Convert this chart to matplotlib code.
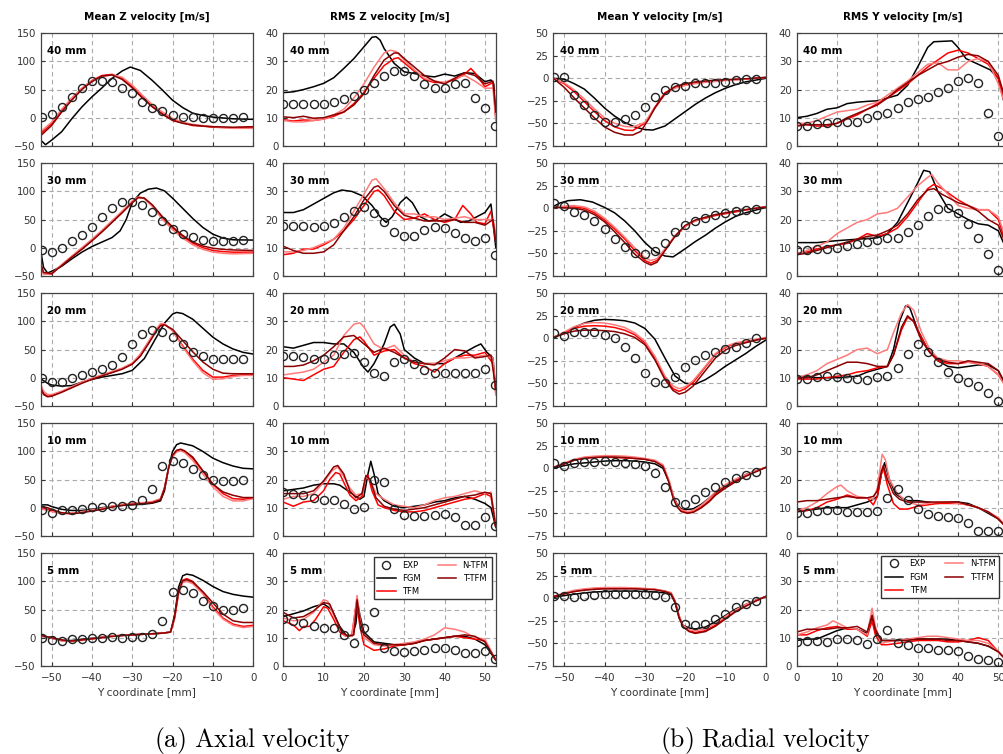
import matplotlib
matplotlib.use('agg')
import matplotlib.pyplot as plt

plt.rcParams['mathtext.fontset'] = 'cm'

# ---------------- data ----------------
heights = ['40 mm', '30 mm', '20 mm', '10 mm', '5 mm']
col_titles = ['Mean Z velocity [m/s]', 'RMS Z velocity [m/s]',
              'Mean Y velocity [m/s]', 'RMS Y velocity [m/s]']
model_names = ['FGM', 'TFM', 'N-TFM', 'T-TFM']

# experimental sample positions
exp_xneg = [-52.5, -50, -47.5, -45, -42.5, -40, -37.5, -35, -32.5, -30, -27.5,
            -25, -22.5, -20, -17.5, -15, -12.5, -10, -7.5, -5, -2.5]
exp_xpos = [0, 2.5, 5, 7.5, 10, 12.5, 15, 17.5, 20, 22.5, 25, 27.5, 30, 32.5,
            35, 37.5, 40, 42.5, 45, 47.5, 50, 52.5]
exp_xpos4 = exp_xpos[:-1]

# ---- Mean Z velocity ----
mz40_exp = [1, 6, 19, 37, 53, 65, 66, 63, 53, 43, 28, 18, 11, 5, 2, 1, 0, 0, 0, 0, 1]
mz40_fgm = [(-52.7, -40), (-51.5, -48), (-50, -40), (-47.5, -25), (-45, -2), (-42.5, 19), (-40, 37),
            (-37.5, 53), (-35, 70), (-32.5, 83), (-30.5, 90), (-28, 84), (-25, 66), (-22.5, 49),
            (-20, 31), (-17.5, 18), (-15, 8), (-12.5, 4), (-10, 1), (-5, -2), (0, -3)]
mz40_tfm = [(-52.7, -28), (-50, -11), (-47.5, 13), (-45, 34), (-42.5, 52), (-40, 66), (-37.5, 75),
            (-35, 77), (-32.5, 70), (-30, 55), (-27.5, 37), (-25, 20), (-22.5, 7), (-20, -4),
            (-17.5, -9), (-15, -14), (-12.5, -15), (-10, -17), (-5, -18), (0, -17)]
mz40_ntfm = [(-52.7, -25), (-50, -8), (-47.5, 15), (-45, 35), (-42.5, 52), (-40, 65), (-37.5, 73),
             (-35, 76), (-32.5, 72), (-30, 58), (-27.5, 40), (-25, 23), (-22.5, 10), (-20, -1),
             (-17.5, -8), (-15, -12), (-12.5, -14), (-10, -16), (-5, -19), (0, -19)]
mz40_ttfm = [(-52.7, -32), (-50, -14), (-47.5, 10), (-45, 31), (-42.5, 50), (-40, 64), (-37.5, 74),
             (-35, 76), (-32.5, 68), (-30, 53), (-27.5, 35), (-25, 19), (-22.5, 6), (-20, -5),
             (-17.5, -10), (-15, -13), (-12.5, -15), (-10, -16), (-5, -17), (0, -16)]

mz30_exp = [-4, -8, 0, 12, 22.5, 37, 54, 70, 80.6, 80.6, 76, 64, 48, 33, 24, 18.4, 13.6, 12.5, 12.5, 12.5, 13.6]
mz30_fgm = [(-52.7, -5), (-52, -35), (-51, -45), (-50, -42), (-47.5, -33), (-45, -20), (-42.5, -8),
            (-40, 2), (-37.5, 10), (-35, 18), (-33, 30), (-31.5, 50), (-30, 80), (-28, 97), (-26, 104),
            (-24, 106), (-22, 101), (-20, 88), (-17.5, 70), (-15, 52), (-12.5, 36), (-10, 24),
            (-7.5, 17), (-5, 14), (0, 13.5)]
mz30_tfm = [(-52.7, -30), (-52, -46), (-50, -47), (-47.5, -31), (-45, -16), (-42.5, -2), (-40, 13),
            (-37.5, 29), (-35, 46), (-32.5, 63), (-30, 82), (-28.5, 90), (-27, 88), (-25, 75),
            (-22.5, 53), (-20, 35), (-17.5, 20), (-15, 8), (-12.5, 0), (-10, -5), (-7.5, -7),
            (-5, -8), (0, -8)]
mz30_ntfm = [(-52.7, -32), (-52, -47), (-50, -46), (-47.5, -30), (-45, -15), (-42.5, 0), (-40, 15),
             (-37.5, 31), (-35, 48), (-32.5, 65), (-30, 83), (-28.5, 90), (-27, 87), (-25, 73),
             (-22.5, 50), (-20, 32), (-17.5, 17), (-15, 5), (-12.5, -3), (-10, -8), (-7.5, -10),
             (-5, -11), (0, -10)]
mz30_ttfm = [(-52.7, -28), (-52, -44), (-50, -46), (-47.5, -32), (-45, -17), (-42.5, -3), (-40, 12),
             (-37.5, 28), (-35, 45), (-32.5, 62), (-30, 80), (-28.5, 89), (-27, 88), (-25, 76),
             (-22.5, 55), (-20, 37), (-17.5, 22), (-15, 10), (-12.5, 3), (-10, -1), (-7.5, -3),
             (-5, -4), (0, -5)]

mz20_exp = [0, -7, -7, -1, 5, 10.7, 14.8, 22.5, 36, 59, 77, 85, 82, 72, 59, 46, 39, 34, 33, 33, 34]
mz20_fgm = [(-52.7, -2), (-51, -10), (-50, -13), (-47.5, -15), (-45, -14), (-42.5, -8), (-40, -3),
            (-37.5, 1), (-35, 4), (-32.5, 7), (-30, 13), (-27, 34), (-24, 72), (-22, 97), (-20, 113),
            (-19, 116), (-17.5, 114), (-15, 104), (-12.5, 88), (-10, 72), (-7.5, 60), (-5, 51),
            (-2.5, 45), (0, 42)]
mz20_tfm = [(-52.7, -15), (-52, -28), (-51, -33), (-50, -32), (-47.5, -25), (-45, -17), (-42.5, -9),
            (-40, -2), (-37.5, 4), (-35, 10), (-32.5, 16), (-30, 25), (-28, 40), (-26, 62), (-24, 85),
            (-23, 94), (-22, 95), (-20, 84), (-17.5, 57), (-15, 33), (-12.5, 13), (-10, 1),
            (-7.5, 1), (-5, 4), (-2.5, 5), (0, 5)]
mz20_ntfm = [(-52.7, -12), (-52, -24), (-51, -30), (-50, -30), (-47.5, -24), (-45, -16), (-42.5, -8),
             (-40, -1), (-37.5, 5), (-35, 11), (-32.5, 17), (-30, 26), (-28, 42), (-26, 64), (-24, 87),
             (-23, 96), (-22, 96), (-20, 83), (-17.5, 55), (-15, 30), (-12.5, 9), (-10, -3),
             (-7.5, -2), (-5, 2), (-2.5, 4), (0, 4)]
mz20_ttfm = [(-52.7, -17), (-52, -30), (-51, -34), (-50, -33), (-47.5, -26), (-45, -18), (-42.5, -10),
             (-40, -3), (-37.5, 3), (-35, 9), (-32.5, 15), (-30, 24), (-28, 38), (-26, 60), (-24, 83),
             (-23, 92), (-22, 94), (-20, 86), (-17.5, 66), (-15, 46), (-12.5, 28), (-10, 15),
             (-7.5, 8), (-5, 7), (-2.5, 7), (0, 7)]

mz10_exp = [-3.6, -9, -5, -3.6, -1.8, 1.2, 1.2, 2.4, 2.4, 4.2, 14, 34, 74, 83, 80, 69, 57.5, 50, 47, 47, 50]
mz10_fgm = [(-52.7, 5), (-51, 5), (-50, 2), (-47.5, -3), (-45, -5), (-42.5, -5), (-40, -3), (-37.5, 0),
            (-35, 2), (-32.5, 4), (-30, 5), (-27.5, 6), (-25, 8), (-23, 12), (-22, 30), (-21, 70),
            (-20, 100), (-19, 112), (-18, 115), (-15, 110), (-12.5, 100), (-10, 88), (-7.5, 80),
            (-5, 74), (-2.5, 70), (0, 69)]
mz10_tfm = [(-52.7, 0), (-51, -3), (-50, -5), (-47.5, -10), (-45, -10), (-42.5, -8), (-40, -5),
            (-37.5, -2), (-35, 2), (-32.5, 5), (-30, 7), (-27.5, 8), (-25, 10), (-23, 15), (-22, 35),
            (-21, 70), (-20, 92), (-19, 101), (-18, 103), (-17, 100), (-15, 88), (-12.5, 65),
            (-10, 42), (-7.5, 25), (-5, 16), (-2.5, 15), (0, 17)]
mz10_ntfm = [(-52.7, -2), (-51, -5), (-50, -7), (-47.5, -11), (-45, -10), (-42.5, -7), (-40, -4),
             (-37.5, -1), (-35, 3), (-32.5, 6), (-30, 8), (-27.5, 9), (-25, 11), (-23, 16), (-22, 36),
             (-21, 70), (-20, 90), (-19, 99), (-18, 101), (-17, 98), (-15, 84), (-12.5, 60),
             (-10, 37), (-7.5, 20), (-5, 12), (-2.5, 12), (0, 16)]
mz10_ttfm = [(-52.7, 2), (-51, 0), (-50, -3), (-47.5, -9), (-45, -11), (-42.5, -9), (-40, -6),
             (-37.5, -3), (-35, 1), (-32.5, 4), (-30, 6), (-27.5, 7), (-25, 9), (-23, 14), (-22, 34),
             (-21, 70), (-20, 93), (-19, 102), (-18, 104), (-17, 101), (-15, 90), (-12.5, 66),
             (-10, 42), (-7.5, 28), (-5, 22), (-2.5, 18), (0, 18)]

mz5_exp = [0, -4, -6, -3, -2, 0, 0, 0.6, 0, 0.6, 2, 6.5, 30, 80.6, 85, 80, 65, 56, 49, 49, 52]
mz5_fgm = [(-52.7, 3), (-50, -1), (-47.5, -5), (-45, -5), (-42.5, -3), (-40, -1), (-37.5, 1),
           (-35, 3), (-32.5, 4), (-30, 5), (-27.5, 6), (-25, 7), (-22.5, 8), (-20.5, 10), (-19.5, 40),
           (-18.5, 90), (-17.5, 110), (-16.5, 113), (-15, 111), (-12.5, 102), (-10, 91), (-7.5, 82),
           (-5, 77), (-2.5, 74), (0, 72)]
mz5_tfm = [(-52.7, 4), (-50, 0), (-47.5, -5), (-45, -6), (-42.5, -4), (-40, -2), (-37.5, 0),
           (-35, 3), (-32.5, 4), (-30, 5), (-27.5, 6), (-25, 7), (-22.5, 8), (-20.5, 10), (-19.5, 35),
           (-18.5, 80), (-17.5, 102), (-16.5, 105), (-15, 100), (-12.5, 80), (-10, 55), (-7.5, 35),
           (-5, 24), (-2.5, 20), (0, 22)]
mz5_ntfm = [(-52.7, 3), (-50, -1), (-47.5, -6), (-45, -7), (-42.5, -5), (-40, -2), (-37.5, 1),
            (-35, 3), (-32.5, 4), (-30, 5), (-27.5, 6), (-25, 7), (-22.5, 8), (-20.5, 10), (-19.5, 33),
            (-18.5, 78), (-17.5, 98), (-16.5, 100), (-15, 96), (-12.5, 78), (-10, 52), (-7.5, 33),
            (-5, 22), (-2.5, 18), (0, 20)]
mz5_ttfm = [(-52.7, 4), (-50, 0), (-47.5, -4), (-45, -6), (-42.5, -4), (-40, -2), (-37.5, 0),
            (-35, 2), (-32.5, 4), (-30, 5), (-27.5, 6), (-25, 7), (-22.5, 8), (-20.5, 10), (-19.5, 36),
            (-18.5, 82), (-17.5, 101), (-16.5, 103), (-15, 99), (-12.5, 82), (-10, 62), (-7.5, 42),
            (-5, 30), (-2.5, 27), (0, 27)]

# ---- RMS Z velocity ----
rz40_exp = [14.8, 14.7, 14.7, 14.8, 15, 15.7, 16.5, 17.7, 19.8, 22.4, 24.8, 26.5, 26.7, 24.8, 22,
            20.6, 20.6, 21.8, 22.5, 17, 13.3, 7.1]
rz40_fgm = [(0, 18.9), (2.5, 19.2), (5, 20), (7.5, 21), (10, 22.2), (12.5, 24.2), (15, 27.5), (17.5, 31),
            (20, 35.2), (22, 38.6), (23, 38.8), (24, 37.6), (25, 34.6), (27.5, 29.3), (30, 26.3),
            (32.5, 25.7), (35, 24.9), (37.5, 24.5), (40, 25.5), (42.5, 24.8), (45, 26), (47.5, 25.7),
            (50, 22.8), (51.5, 23.4), (52.2, 22), (52.7, 10)]
rz40_tfm = [(0, 9.3), (2.5, 8.8), (5, 9.2), (7.5, 9), (10, 9.5), (12.5, 10.5), (15, 12), (17.5, 15),
            (20, 19), (22.5, 24), (25, 28.5), (27.5, 31), (28.5, 31.3), (30, 29.5), (32.5, 26.5),
            (35, 23.5), (37.5, 22.5), (40, 22.5), (42.5, 23.5), (45, 25.5), (46.5, 27.5), (47.5, 26),
            (50, 21), (52, 22.5), (52.7, 10)]
rz40_ntfm = [(0, 9), (2.5, 8.5), (5, 8.5), (7.5, 9), (10, 9.5), (12.5, 11), (15, 13), (17.5, 17),
             (20, 22), (22.5, 28), (25, 33), (26.5, 34), (28, 33.5), (30, 30.5), (32.5, 27), (35, 24),
             (37.5, 23), (40, 22.5), (42.5, 24), (45, 25), (47.5, 23), (50, 20.5), (52, 20.5), (52.7, 9)]
rz40_ttfm = [(0, 10.3), (2.5, 10), (5, 10.5), (7.5, 9.8), (10, 10), (12.5, 11), (15, 12), (17.5, 14.5),
             (20, 18.5), (22.5, 25), (25, 30.5), (27.5, 33), (28.5, 33), (30, 31), (32.5, 28), (35, 25),
             (37.5, 23), (40, 22), (42.5, 24), (45, 26), (47.5, 25), (50, 22), (52, 23), (52.7, 12)]

rz30_exp = [17.7, 17.7, 17.7, 17.4, 17.7, 18.9, 21, 23, 24.6, 22.2, 19.2, 15.7, 14.2, 14.2, 16.3,
            17.2, 17, 15.3, 13.5, 12.5, 13.5, 7.4]
rz30_fgm = [(0, 22.5), (2.5, 22.5), (5, 23.5), (7.5, 25.5), (10, 27.5), (12.5, 29.5), (14.5, 30.5),
            (17, 30), (19.5, 28.5), (22, 25), (24, 21), (25.5, 19), (27, 21), (29, 26), (30.5, 28),
            (32, 26), (34, 21), (36, 19.5), (38, 20), (40, 22), (42, 20.5), (44, 19), (46, 19.5),
            (48, 21), (50, 22.5), (51.5, 25.5), (52.7, 10)]
rz30_tfm = [(0, 7.5), (2.5, 8), (5, 9.5), (7.5, 9.5), (10, 11), (12.5, 13), (15, 16), (17.5, 20),
            (20, 25), (22.5, 30), (23.5, 30.5), (25, 28.5), (27.5, 23), (30, 20), (32.5, 20.5),
            (35, 22), (37.5, 20), (40, 19), (42.5, 20), (44.5, 25), (46.5, 22), (48, 19), (50, 18.5),
            (51.5, 23), (52.7, 12)]
rz30_ntfm = [(0, 8.5), (2.5, 8.5), (5, 9), (7.5, 10), (10, 11.5), (12.5, 13), (15, 17), (17.5, 23),
             (20, 29), (22, 34), (23, 34.5), (25, 31), (27.5, 26), (30, 22), (32.5, 22), (35, 21),
             (37.5, 21), (40, 20), (42.5, 20.5), (45, 21), (47.5, 20), (50, 20), (52, 20), (52.7, 15)]
rz30_ttfm = [(0, 10.5), (2.5, 9), (5, 8), (7.5, 8), (10, 8.5), (12.5, 11), (15, 16), (17.5, 21),
             (20, 27), (22.5, 31.5), (23.5, 32), (25, 30), (27.5, 25), (30, 21.5), (32.5, 20.5),
             (35, 19.5), (37.5, 19.5), (40, 19.5), (42.5, 20), (45, 19), (47.5, 19), (50, 18),
             (52, 20), (52.7, 12)]

rz20_exp = [17.8, 17.7, 17.2, 16.6, 16.6, 18, 18.4, 18.9, 15.7, 11.7, 10.6, 15.4, 16.8, 14.8, 12.7,
            11.5, 11.5, 11.5, 11.7, 11.7, 13, 7.4]
rz20_fgm = [(0, 21), (2.5, 20.5), (5, 21.5), (7.5, 22.5), (10, 22.5), (12.5, 22), (15, 22), (17.5, 19),
            (20, 13.5), (21, 12), (22.5, 15), (25, 22), (26.5, 28), (27.5, 29), (29, 25.5), (30, 20),
            (32.5, 17), (35, 15), (37.5, 15), (40, 15), (42.5, 17), (45, 19), (47.5, 21), (49, 22),
            (50.5, 19), (52, 17), (52.7, 5)]
rz20_tfm = [(0, 10), (2.5, 9.5), (5, 9), (7.5, 11), (10, 13), (12.5, 14), (15, 19), (17.5, 23.5),
            (19, 24.5), (20, 23), (22.5, 18), (25, 19.5), (27.5, 20), (30, 17), (32.5, 15), (35, 14),
            (37.5, 12), (40, 15), (42.5, 17), (45, 18), (47.5, 18), (50, 19), (52, 15), (52.7, 4)]
rz20_ntfm = [(0, 11), (2.5, 11.5), (5, 12), (7.5, 13), (10, 15.5), (12.5, 18), (15, 25), (17.5, 29),
             (19, 29.5), (20, 28), (22.5, 22), (25, 20), (27.5, 21.5), (30, 18), (32.5, 15.5), (35, 15),
             (37.5, 15), (40, 16), (42.5, 17), (45, 17), (47.5, 17.5), (50, 18), (52, 17), (52.7, 4)]
rz20_ttfm = [(0, 14), (2.5, 14), (5, 14.5), (7.5, 16), (10, 18), (12.5, 21), (15, 24.5), (17.5, 25),
             (20, 22), (22.5, 19), (25, 20.5), (27.5, 19), (30, 17), (32.5, 15.5), (35, 15),
             (37.5, 14.5), (40, 17), (42.5, 20), (45, 19.5), (47.5, 17), (50, 17.5), (51.5, 18), (52.7, 6)]

rz10_exp = [15.7, 15, 14.5, 13.3, 12.9, 12.7, 11.3, 9.4, 10.3, 19.8, 19.2, 9.4, 7.4, 7.1, 7.1, 7.4,
            7.7, 6.8, 3.8, 3.8, 6.8, 3.4]
rz10_fgm = [(0, 16), (2.5, 16.5), (5, 17), (7.5, 18), (10, 18.5), (12.5, 18.5), (14, 18), (15, 17),
            (17.5, 14.5), (19, 13), (20, 14), (21, 22), (21.7, 26.5), (22.5, 22), (23.5, 15), (25, 12.5),
            (27.5, 10.5), (30, 10), (32.5, 10.5), (35, 11), (37.5, 12), (40, 12.5), (42.5, 13.5),
            (45, 14), (47.5, 13), (50, 11.5), (51.5, 10), (52.7, 3)]
rz10_tfm = [(0, 12), (2.5, 10.5), (5, 12), (7.5, 12.5), (10, 16), (11.5, 20), (13, 22.5), (14, 22),
            (15, 19), (16.5, 14.5), (18, 12.5), (19.5, 14), (20.5, 21), (21, 21.5), (22, 16), (23.5, 11),
            (25, 10), (27.5, 9), (30, 8.5), (32.5, 8.5), (35, 9), (37.5, 10), (40, 11), (42.5, 12),
            (45, 13), (47.5, 13.5), (50, 15), (51.5, 14), (52.7, 3)]
rz10_ntfm = [(0, 13), (2.5, 14), (5, 14), (7.5, 15), (10, 19), (12, 23), (13.5, 24.5), (15, 21),
             (16.5, 17), (18, 14.5), (19.5, 15), (20.5, 21), (21.5, 20), (23, 15), (25, 13), (27.5, 11),
             (30, 10.5), (32.5, 10), (35, 11), (37.5, 12.5), (40, 13.5), (42.5, 14), (45, 15),
             (47.5, 16), (50, 15), (51.5, 15.5), (52.7, 4)]
rz10_ttfm = [(0, 15), (2.5, 15), (5, 15), (7.5, 16), (10, 19.5), (12.5, 24.5), (13.5, 25), (15, 22),
             (16.5, 16), (18, 13.5), (19.5, 15), (20.5, 21.5), (21.5, 20), (23, 13.5), (25, 10.5),
             (27.5, 9.5), (30, 9), (32.5, 9.5), (35, 10), (37.5, 11), (40, 12), (42.5, 13), (45, 14),
             (47.5, 14.5), (50, 15.5), (51.5, 15), (52.7, 3)]

rz5_exp = [16.8, 15.9, 15.3, 14.1, 13.3, 13.3, 11, 8, 13.3, 19, 6.5, 5.2, 5, 5.2, 5.6, 6.2, 6.2, 5.6,
           4.6, 4.4, 5.3, 2.3]
rz5_fgm = [(0, 17.5), (2.5, 18.5), (5, 19.5), (7.5, 21), (10, 22), (12, 20), (14, 14), (15.5, 11),
           (17, 10.5), (18, 15), (18.5, 22), (19, 18), (20, 12), (22.5, 8.5), (25, 8), (27.5, 7.5),
           (30, 7.5), (32.5, 8), (35, 9), (37.5, 9.5), (40, 10), (42.5, 10.5), (45, 10.5), (47.5, 9.5),
           (50, 7.5), (52.7, 2)]
rz5_tfm = [(0, 16), (2.5, 14.5), (4, 12.5), (5, 14), (6.5, 14), (8, 16.5), (10, 21), (11, 20.5),
           (12.5, 16.5), (14, 12), (15.5, 10.5), (17, 11), (18.2, 23), (19, 14), (20, 7.5), (22.5, 5.5),
           (25, 6), (27.5, 7), (30, 7.5), (32.5, 8), (35, 9), (37.5, 9.5), (40, 10), (42.5, 10.5),
           (45, 10), (47.5, 9.5), (50, 9), (52.7, 2)]
rz5_ntfm = [(0, 17), (2.5, 16), (5, 16.5), (7.5, 19), (10, 23.5), (11, 23), (12.5, 18), (14, 13),
            (15.5, 10.5), (17, 10.5), (18.3, 25), (19, 17), (20, 10), (22.5, 7.5), (25, 7), (27.5, 7.5),
            (30, 8), (32.5, 8.5), (35, 9.5), (37.5, 11), (40, 13.5), (42.5, 13), (45, 12), (47.5, 10),
            (50, 9.5), (52.7, 2)]
rz5_ttfm = [(0, 19), (2.5, 17), (5, 17.5), (7.5, 19.5), (10, 22.5), (11.5, 22), (13, 17), (14.5, 12),
            (16, 10.5), (17.5, 11), (18.3, 23.5), (19, 16), (20, 11), (22.5, 8), (25, 7.5), (27.5, 7.5),
            (30, 7.5), (32.5, 8), (35, 9), (37.5, 9.5), (40, 10), (42.5, 10.5), (45, 11), (47.5, 10.5),
            (50, 8.5), (52.7, 2)]

# ---- Mean Y velocity ----
my40_exp = [1, 2, -18.5, -30, -41, -48, -48, -45, -41, -31.5, -21, -13, -10, -8, -5.5, -5.5, -5, -4, -2, -1, -1]
my40_fgm = [(-52.7, 0), (-50, -1), (-47.5, -6), (-45, -12), (-42.5, -22), (-40, -33), (-37.5, -42),
            (-35, -49), (-32.5, -54), (-30, -57), (-28, -57.5), (-25, -53), (-22.5, -45), (-20, -37),
            (-17.5, -29), (-15, -22), (-12.5, -16), (-10, -11), (-7.5, -7), (-5, -4), (-2.5, -2), (0, 0)]
my40_tfm = [(-52.7, 0), (-50, -6), (-47.5, -15), (-45, -26), (-42.5, -37), (-40, -47), (-37.5, -54),
            (-35, -57.5), (-33, -58), (-30, -50), (-27.5, -32), (-25, -16), (-22.5, -10), (-20, -7),
            (-17.5, -5), (-15, -4), (-12.5, -3), (-10, -2), (-5, -1), (0, 1)]
my40_ntfm = [(-52.7, 0), (-50, -5), (-47.5, -13), (-45, -23), (-42.5, -34), (-40, -44), (-37.5, -50),
             (-35, -53.5), (-33, -54), (-30, -49), (-27.5, -33), (-25, -18), (-22.5, -11), (-20, -8),
             (-17.5, -6), (-15, -4.5), (-12.5, -3.5), (-10, -2.5), (-5, -1), (0, 1)]
my40_ttfm = [(-52.7, 0), (-50, -10), (-47.5, -22), (-45, -33), (-42.5, -44), (-40, -54), (-37.5, -60),
             (-35, -63), (-33, -63), (-31, -59), (-29, -45), (-27.5, -33), (-25, -17), (-22.5, -9),
             (-20, -6), (-17.5, -4), (-15, -3), (-12.5, -2), (-10, -1.5), (-5, -0.5), (0, 1)]

my30_exp = [6, 2.6, -3.7, -7.4, -13.7, -23.4, -34.5, -43.4, -50, -50.8, -48, -39, -26, -18.5, -13.7,
            -11, -7.4, -4.8, -2.6, -1.9, -0.7]
my30_fgm = [(-52.7, 2), (-51, 6), (-49, 8.5), (-46, 9.5), (-43, 7), (-40, 1), (-37.5, -5), (-35, -14),
            (-32.5, -25), (-30, -38), (-27.5, -48), (-25, -53), (-23, -54), (-20, -45), (-17.5, -37),
            (-15, -30), (-12.5, -22), (-10, -15), (-7.5, -9), (-5, -5), (-2.5, -2), (0, 1)]
my30_tfm = [(-52.7, 1), (-50, 1.5), (-47.5, 1.5), (-45, 0), (-42.5, -5), (-40, -13), (-37.5, -23),
            (-35, -34), (-32.5, -47), (-30, -58), (-28.5, -61), (-27, -58), (-25, -46), (-22.5, -31),
            (-20, -20), (-17.5, -14), (-15, -11), (-12.5, -8), (-10, -6), (-7.5, -4), (-5, -2),
            (-2.5, 0), (0, 1.5)]
my30_ntfm = [(-52.7, 1), (-50, 2.5), (-47.5, 3), (-45, 1.5), (-42.5, -3), (-40, -11), (-37.5, -21),
             (-35, -32), (-32.5, -44), (-30, -55), (-28.5, -58), (-27, -56), (-25, -45), (-22.5, -30),
             (-20, -20), (-17.5, -14), (-15, -10), (-12.5, -7), (-10, -5), (-7.5, -3), (-5, -1.5),
             (-2.5, 0), (0, 2)]
my30_ttfm = [(-52.7, 1), (-50, 0.5), (-47.5, 0), (-45, -2), (-42.5, -7), (-40, -15), (-37.5, -26),
             (-35, -38), (-32.5, -51), (-30, -60), (-28.5, -63), (-27, -60), (-25, -47), (-22.5, -31),
             (-20, -19), (-17.5, -13), (-15, -10), (-12.5, -7), (-10, -5), (-7.5, -3), (-5, -1.5),
             (-2.5, 0), (0, 1.5)]

my20_exp = [5.6, 2.6, 6.7, 6.7, 6.7, 3.7, 0.7, -9.3, -22.3, -38, -49, -50, -42.7, -31.5, -24, -18.5,
            -14.8, -11.9, -10, -5.6, 0]
my20_fgm = [(-52.7, 1), (-50, 6), (-47.5, 12), (-45, 17), (-42.5, 20), (-40, 21), (-37.5, 20.5),
            (-35, 19.5), (-32.5, 17), (-30, 11), (-27.5, -1), (-25, -22), (-22.5, -42), (-20, -50),
            (-17.5, -51), (-15, -46), (-12.5, -39), (-10, -31), (-7.5, -24), (-5, -17), (-2.5, -9), (0, -2)]
my20_tfm = [(-52.7, 1), (-50, 6), (-47.5, 11), (-45, 13.5), (-42.5, 14), (-40, 13.5), (-37.5, 12),
            (-35, 9), (-32.5, 4), (-30, -5), (-27.5, -22), (-25, -44), (-23, -56), (-21.5, -59),
            (-20, -56), (-18, -49), (-15, -32), (-12.5, -18), (-10, -10), (-7.5, -6), (-5, -4),
            (-2.5, -2), (0, 0)]
my20_ntfm = [(-52.7, 1), (-50, 7), (-47.5, 13), (-45, 16.5), (-42.5, 17.5), (-40, 17), (-37.5, 15),
             (-35, 12), (-32.5, 6), (-30, -3), (-27.5, -20), (-25, -42), (-23, -53), (-21.5, -56),
             (-20, -54), (-18, -47), (-15, -31), (-12.5, -17), (-10, -9), (-7.5, -5), (-5, -3),
             (-2.5, -1), (0, 1)]
my20_ttfm = [(-52.7, 1), (-50, 5), (-47.5, 8), (-45, 9), (-42.5, 9), (-40, 8.5), (-37.5, 7.5),
             (-35, 5), (-32.5, 1), (-30, -7), (-27.5, -24), (-25, -46), (-23, -58), (-21.5, -62),
             (-20, -60), (-18, -53), (-15, -36), (-12.5, -22), (-10, -13), (-7.5, -8), (-5, -5),
             (-2.5, -2), (0, 0)]

my10_exp = [6.3, 3, 5.6, 6.7, 7.4, 8.2, 7.4, 6.3, 4.8, 2.6, -5.6, -21, -38, -39.7, -34.5, -26.7,
            -20.4, -14.8, -11, -7.4, -3.7]
my10_fgm = [(-52.7, 0), (-50, 3), (-47.5, 5), (-45, 6), (-42.5, 7), (-40, 8), (-37.5, 8.5), (-35, 8.5),
            (-32.5, 8), (-30, 7), (-27.5, 5), (-25.5, 0), (-24, -15), (-23, -30), (-22, -40), (-21, -45),
            (-20, -46), (-18, -45), (-16, -40), (-14, -33), (-12.5, -27), (-10, -20), (-7.5, -13),
            (-5, -7), (-2.5, -3), (0, 1)]
my10_tfm = [(-52.7, 1), (-50, 5), (-47.5, 9), (-45, 11.5), (-42.5, 12.5), (-40, 12.5), (-37.5, 12),
            (-35, 11.5), (-32.5, 11), (-30, 10), (-27.5, 8), (-25.5, 3), (-24, -15), (-23, -32),
            (-22, -42), (-21, -47), (-19.5, -49), (-18, -48), (-16, -43), (-14, -36), (-12.5, -29),
            (-10, -21), (-7.5, -14), (-5, -8), (-2.5, -3), (0, 1)]
my10_ntfm = [(-52.7, 1), (-50, 6), (-47.5, 10), (-45, 12.5), (-42.5, 13.5), (-40, 14), (-37.5, 14),
             (-35, 13.5), (-32.5, 12.5), (-30, 11), (-27.5, 9), (-25.5, 4), (-24, -13), (-23, -30),
             (-22, -41), (-21, -46), (-19.5, -48), (-18, -47), (-16, -41), (-14, -33), (-12.5, -26),
             (-10, -18), (-7.5, -12), (-5, -7), (-2.5, -3), (0, 1)]
my10_ttfm = [(-52.7, 1), (-50, 5), (-47.5, 9), (-45, 11), (-42.5, 12), (-40, 12.5), (-37.5, 12.5),
             (-35, 12), (-32.5, 11), (-30, 10), (-27.5, 7.5), (-25.5, 2), (-24, -16), (-23, -33),
             (-22, -43), (-21, -48), (-19.5, -50), (-18, -49), (-16, -44), (-14, -37), (-12.5, -30),
             (-10, -22), (-7.5, -15), (-5, -9), (-2.5, -4), (0, 1)]

my5_exp = [3, 3, 2, 3, 4, 5, 5, 5, 5, 5, 4, 2, -10, -28, -30, -28, -23, -17, -10, -6, -3]
my5_fgm = [(-52.7, 1), (-50, 3), (-47.5, 4.5), (-45, 6), (-42.5, 7), (-40, 7.5), (-37.5, 8), (-35, 8),
           (-32.5, 8), (-30, 7.5), (-27.5, 7), (-25, 6), (-23.5, 4), (-22.5, -5), (-21.5, -22),
           (-20.5, -30), (-19, -33), (-17.5, -34), (-15, -32), (-12.5, -26), (-10, -19), (-7.5, -12),
           (-5, -7), (-2.5, -2), (0, 2)]
my5_tfm = [(-52.7, 2), (-50, 5), (-47.5, 8), (-45, 9.5), (-42.5, 10.5), (-40, 11), (-37.5, 11),
           (-35, 11), (-32.5, 11), (-30, 10.5), (-27.5, 10), (-25, 8), (-23.5, 6), (-22.5, -3),
           (-21.5, -20), (-20.5, -31), (-19, -36), (-17.5, -38), (-15, -36), (-12.5, -30), (-10, -22),
           (-7.5, -14), (-5, -8), (-2.5, -3), (0, 2)]
my5_ntfm = [(-52.7, 2), (-50, 6), (-47.5, 9), (-45, 10.5), (-42.5, 11.5), (-40, 12), (-37.5, 12),
            (-35, 12), (-32.5, 11.5), (-30, 11), (-27.5, 10), (-25, 8), (-23.5, 6), (-22.5, -3),
            (-21.5, -19), (-20.5, -30), (-19, -35), (-17.5, -36), (-15, -34), (-12.5, -28), (-10, -20),
            (-7.5, -13), (-5, -7), (-2.5, -2), (0, 2)]
my5_ttfm = [(-52.7, 2), (-50, 5), (-47.5, 7.5), (-45, 9), (-42.5, 10), (-40, 10.5), (-37.5, 10.5),
            (-35, 10.5), (-32.5, 10.5), (-30, 10), (-27.5, 9.5), (-25, 7.5), (-23.5, 5), (-22.5, -4),
            (-21.5, -21), (-20.5, -32), (-19, -37), (-17.5, -39), (-15, -37), (-12.5, -31), (-10, -23),
            (-7.5, -15), (-5, -9), (-2.5, -3), (0, 2)]

# ---- RMS Y velocity ----
ry40_exp = [7, 7, 7.7, 8, 8.5, 8.5, 8.5, 10, 11, 11.7, 13.3, 15.4, 16.6, 17.4, 19, 20.6, 23, 24,
            22.2, 11.5, 3.4]
ry40_fgm = [(0, 10), (2.5, 10.5), (5, 11.5), (7.5, 13), (10, 13.5), (12.5, 15), (15, 15.5),
            (17.5, 15.8), (20, 16), (22.5, 17), (25, 18), (27.5, 21.5), (30, 28), (32.5, 35), (34, 37),
            (38.5, 37.3), (40, 35), (42, 31), (45, 29), (48, 27), (50, 24), (51.5, 15), (52.7, 5)]
ry40_tfm = [(0, 8), (2.5, 7.5), (5, 7), (7.5, 7), (10, 8), (12.5, 9.5), (15, 11), (17.5, 13), (20, 15),
            (22.5, 17), (25, 19.5), (27.5, 22), (30, 25), (32.5, 28), (35, 30.5), (37.5, 33), (40, 34),
            (42.5, 33), (45, 31), (47.5, 29), (50, 24), (52.7, 10)]
ry40_ntfm = [(0, 8), (2.5, 8), (5, 9), (7.5, 10.5), (10, 12), (12.5, 12.5), (15, 13), (17.5, 14.5),
             (20, 15.5), (22.5, 18), (25, 20.5), (27.5, 23), (30, 26), (32.5, 29), (35, 29.5),
             (37.5, 27), (40, 27), (42.5, 30), (45, 31), (47.5, 30), (50, 22), (52.7, 10)]
ry40_ttfm = [(0, 7), (2.5, 7.5), (5, 7.5), (7.5, 7.5), (10, 8), (12.5, 10), (15, 11.5), (17.5, 13),
             (20, 14.5), (22.5, 17), (25, 20), (27.5, 22.5), (30, 25), (32.5, 27), (35, 29), (37.5, 30),
             (40, 31.5), (42.5, 32.5), (45, 32), (47.5, 30), (50, 25), (52.7, 12)]

ry30_exp = [9.1, 9.1, 9.4, 9.4, 10, 10.7, 11.2, 12.1, 12.7, 13.3, 13.5, 15.4, 18, 21.4, 23.7, 24,
            22.4, 18.4, 13.3, 7.6, 2]
ry30_fgm = [(0, 11.8), (5, 11.8), (10, 12.5), (15, 13), (20, 13.5), (22.5, 15), (25, 19), (27.5, 26),
            (30, 33), (31.5, 37.5), (33, 37), (35, 30), (37.5, 24), (40, 22), (42.5, 20), (45, 18.5),
            (47.5, 18), (50, 16), (52.7, 7)]
ry30_tfm = [(0, 8), (2.5, 8.5), (5, 9.5), (7.5, 10.5), (10, 11), (12.5, 11.5), (15, 13), (17.5, 15),
            (20, 14), (22.5, 15), (25, 17), (27.5, 21), (30, 26), (32.5, 31), (34, 32.5), (36, 31),
            (38, 29), (40, 27), (42.5, 25), (45, 23.5), (47.5, 23.5), (50, 20), (52.7, 8)]
ry30_ntfm = [(0, 7.5), (2.5, 9), (5, 10.5), (7.5, 12), (10, 15), (12.5, 17), (15, 19), (17.5, 20),
             (20, 22), (22.5, 22.5), (25, 24), (27.5, 28), (30, 32), (32.5, 35), (33.5, 36), (35, 33),
             (37.5, 29), (40, 25), (42.5, 24), (45, 23.5), (47.5, 23.5), (50, 21), (52.7, 10)]
ry30_ttfm = [(0, 7.5), (2.5, 8), (5, 9), (7.5, 10), (10, 11), (12.5, 12), (15, 13), (17.5, 14),
             (20, 14.5), (22.5, 16), (25, 18), (27.5, 22), (30, 27), (32.5, 30.5), (34, 31), (36, 29),
             (38, 27.5), (40, 26), (42.5, 25), (45, 23), (47.5, 20), (50, 18), (52.7, 8)]

ry20_exp = [9.4, 9.4, 10.3, 10.7, 10.3, 10, 9.4, 9.1, 10.3, 10.7, 13.3, 18.4, 21.8, 19.2, 15.4,
            11.9, 10, 8.5, 7.1, 4.4, 1.8]
ry20_fgm = [(0, 10.5), (5, 10), (10, 10), (15, 10.5), (17.5, 12), (20, 13), (22.5, 14), (24, 20),
            (25.5, 30), (27, 35.5), (28, 35), (30, 27), (32.5, 20), (35, 16), (37.5, 14), (40, 13.5),
            (42.5, 14), (45, 14.5), (47.5, 14.5), (50, 12.5), (52.7, 5)]
ry20_tfm = [(0, 9.5), (2.5, 9.5), (5, 9.5), (7.5, 10), (10, 10.5), (12.5, 11), (15, 12), (17.5, 12.5),
            (20, 13.5), (22.5, 14), (24, 18), (26, 27), (27.5, 31.5), (29, 30), (31, 24), (33, 19),
            (35, 16), (37.5, 15), (40, 15), (42.5, 15.5), (45, 15), (47.5, 14), (50, 11), (52.7, 5)]
ry20_ntfm = [(0, 10), (2.5, 11), (5, 12.5), (7.5, 15), (10, 16.5), (12.5, 18), (15, 20), (17.5, 20.5),
             (20, 18.5), (22.5, 20), (24, 26), (26, 33), (27.5, 36), (29, 34), (31, 26), (33, 20),
             (35, 17), (37.5, 16), (40, 16), (42.5, 15.5), (45, 15), (47.5, 14), (50, 11), (52.7, 5)]
ry20_ttfm = [(0, 10), (2.5, 10), (5, 11), (7.5, 12.5), (10, 14), (12.5, 15.5), (15, 15.5), (17.5, 15),
             (20, 14), (22.5, 14), (24, 18), (26, 28), (27.5, 32), (29, 30), (31, 23), (33, 19),
             (35, 16.5), (37.5, 15.5), (40, 15), (42.5, 16), (45, 15.5), (47.5, 15), (50, 12.5), (52.7, 5)]

ry10_exp = [8.2, 8.2, 8.8, 9.1, 9.1, 8.5, 8.5, 8.5, 8.8, 13.3, 16.8, 12.7, 9.4, 7.7, 7.1, 6.8, 6.4,
            4.4, 1.8, 1.7, 1.8]
ry10_fgm = [(0, 8.5), (2.5, 9), (5, 9.5), (7.5, 10), (10, 10), (12.5, 10), (15, 11), (17.5, 12), (19, 13),
            (20, 14), (21, 22), (21.8, 26), (23, 20), (24.5, 15), (26, 13.5), (27.5, 12.5), (30, 12.5),
            (32.5, 12), (35, 11.5), (37.5, 12), (40, 12), (42.5, 11.5), (45, 10), (47.5, 8), (50, 6),
            (52.7, 2)]
ry10_tfm = [(0, 9), (2.5, 9), (5, 10), (7.5, 12), (10, 13), (12.5, 14.5), (15, 13.5), (17.5, 13.5),
            (19, 11), (20, 14), (21, 22), (21.5, 24), (22.5, 18), (24, 11.5), (25.5, 9.5), (27.5, 9.5),
            (30, 10.5), (32.5, 11), (35, 11.5), (37.5, 11.5), (40, 11.5), (42.5, 11), (45, 10),
            (47.5, 8.5), (50, 6), (52.7, 2)]
ry10_ntfm = [(0, 9), (2.5, 10), (5, 12), (7.5, 15), (10, 17.5), (11, 18), (12.5, 16), (15, 14),
             (17.5, 13.5), (19, 13), (20, 17), (21.2, 29), (22, 27), (23, 20), (25, 15), (27.5, 12),
             (30, 11), (32.5, 11.5), (35, 12), (37.5, 12), (40, 11.5), (42.5, 11), (45, 10), (47.5, 8.5),
             (50, 6.5), (52.7, 2)]
ry10_ttfm = [(0, 12), (2.5, 12.5), (5, 12.5), (7.5, 13), (10, 13.5), (12.5, 14), (15, 13.5),
             (17.5, 13.5), (19, 14), (20, 16), (21, 23), (21.5, 25), (22.5, 20), (24, 15), (25.5, 13),
             (27.5, 12), (30, 12), (32.5, 12), (35, 12), (37.5, 12), (40, 12), (42.5, 11), (45, 10),
             (47.5, 8.5), (50, 6), (52.7, 2)]

ry5_exp = [8.3, 8.8, 8.9, 8.5, 9.4, 9.5, 9.1, 7.9, 9.7, 12.9, 8.2, 7.4, 6.5, 6.2, 5.6, 5.6, 5.3, 3.4,
           2.4, 2, 1.4]
ry5_fgm = [(0, 9), (2.5, 9.5), (5, 9.5), (7.5, 11), (10, 12.5), (12.5, 13.5), (15, 13), (17.5, 11.5),
           (18.5, 17.5), (19.5, 12), (21, 9), (22.5, 9), (25, 9), (27.5, 9.5), (30, 9.5), (32.5, 9.5),
           (35, 9.5), (37.5, 9.5), (40, 9), (42.5, 8.5), (45, 8), (47.5, 7), (50, 5), (52.7, 1)]
ry5_tfm = [(0, 11), (2.5, 11), (5, 12.5), (7.5, 13.5), (10, 14), (12.5, 13), (15, 13), (17.5, 10.5),
           (18.7, 16), (19.5, 11), (21, 7.5), (22.5, 7.5), (25, 8), (27.5, 8.5), (30, 9), (32.5, 9),
           (35, 9), (37.5, 8.5), (40, 8.5), (42.5, 9), (45, 10), (47.5, 9), (50, 5), (52.7, 1)]
ry5_ntfm = [(0, 11), (2.5, 12), (5, 13.5), (7.5, 14.5), (9, 16), (10.5, 15), (12.5, 13.5), (15, 13),
            (17.5, 11), (18.7, 20.5), (19.5, 14), (21, 8), (22.5, 8.5), (25, 9), (27.5, 9.5), (30, 10),
            (32.5, 10.5), (35, 10.5), (37.5, 10), (40, 9.5), (42.5, 9), (45, 9), (47.5, 8), (50, 5),
            (52.7, 1)]
ry5_ttfm = [(0, 12), (2.5, 13), (5, 13), (7.5, 13), (10, 13.5), (12.5, 13.5), (15, 14), (17.5, 12),
            (18.7, 18), (19.5, 13), (21, 9), (22.5, 9), (25, 9), (27.5, 9), (30, 9.5), (32.5, 9.5),
            (35, 9.5), (37.5, 9), (40, 9), (42.5, 8.5), (45, 8), (47.5, 7), (50, 5), (52.7, 1)]

# ---------------- assemble ----------------
columns = [
    (exp_xneg, (-52.7, 0), (-50, 150), [-50, 0, 50, 100, 150], [-50, -40, -30, -20, -10, 0],
     [(mz40_exp, mz40_fgm, mz40_tfm, mz40_ntfm, mz40_ttfm),
      (mz30_exp, mz30_fgm, mz30_tfm, mz30_ntfm, mz30_ttfm),
      (mz20_exp, mz20_fgm, mz20_tfm, mz20_ntfm, mz20_ttfm),
      (mz10_exp, mz10_fgm, mz10_tfm, mz10_ntfm, mz10_ttfm),
      (mz5_exp, mz5_fgm, mz5_tfm, mz5_ntfm, mz5_ttfm)]),
    (exp_xpos, (0, 52.7), (0, 40), [0, 10, 20, 30, 40], [0, 10, 20, 30, 40, 50],
     [(rz40_exp, rz40_fgm, rz40_tfm, rz40_ntfm, rz40_ttfm),
      (rz30_exp, rz30_fgm, rz30_tfm, rz30_ntfm, rz30_ttfm),
      (rz20_exp, rz20_fgm, rz20_tfm, rz20_ntfm, rz20_ttfm),
      (rz10_exp, rz10_fgm, rz10_tfm, rz10_ntfm, rz10_ttfm),
      (rz5_exp, rz5_fgm, rz5_tfm, rz5_ntfm, rz5_ttfm)]),
    (exp_xneg, (-52.7, 0), (-75, 50), [-75, -50, -25, 0, 25, 50], [-50, -40, -30, -20, -10, 0],
     [(my40_exp, my40_fgm, my40_tfm, my40_ntfm, my40_ttfm),
      (my30_exp, my30_fgm, my30_tfm, my30_ntfm, my30_ttfm),
      (my20_exp, my20_fgm, my20_tfm, my20_ntfm, my20_ttfm),
      (my10_exp, my10_fgm, my10_tfm, my10_ntfm, my10_ttfm),
      (my5_exp, my5_fgm, my5_tfm, my5_ntfm, my5_ttfm)]),
    (exp_xpos4, (0, 52.7), (0, 40), [0, 10, 20, 30, 40], [0, 10, 20, 30, 40, 50],
     [(ry40_exp, ry40_fgm, ry40_tfm, ry40_ntfm, ry40_ttfm),
      (ry30_exp, ry30_fgm, ry30_tfm, ry30_ntfm, ry30_ttfm),
      (ry20_exp, ry20_fgm, ry20_tfm, ry20_ntfm, ry20_ttfm),
      (ry10_exp, ry10_fgm, ry10_tfm, ry10_ntfm, ry10_ttfm),
      (ry5_exp, ry5_fgm, ry5_tfm, ry5_ntfm, ry5_ttfm)]),
]

model_colors = ['black', '#ff0000', '#ff7b7b', '#8b0000']

W, H = 1004, 754
col_left = [40.7, 283.3, 553.3, 796.7]
row_top = [33.3, 163.3, 293.3, 423.3, 553.3]
ax_w, ax_h = 212.5, 112.5

fig = plt.figure(figsize=(W / 100, H / 100), dpi=100)

for c, (ex, xlim, ylim, yticks, xticks, rows) in enumerate(columns):
    for r, (ey, *models) in enumerate(rows):
        ax = fig.add_axes([col_left[c] / W, 1 - (row_top[r] + ax_h) / H, ax_w / W, ax_h / H])
        ax.plot(ex, ey, 'o', mfc='none', mec='#222222', ms=5.8, mew=1.0, label='EXP', zorder=3)
        for pts, col, name in zip(models, model_colors, model_names):
            xs = [p[0] for p in pts]
            ys = [p[1] for p in pts]
            ax.plot(xs, ys, color=col, lw=1.1, label=name, zorder=2)
        ax.set_xlim(*xlim)
        ax.set_ylim(*ylim)
        ax.set_yticks(yticks)
        ax.set_xticks(xticks)
        ax.grid(True, linestyle=(0, (4, 3)), color='#aaaaaa', linewidth=0.8)
        ax.set_axisbelow(True)
        ax.tick_params(direction='in', length=3, labelsize=7.4, colors='#333333', pad=3.5)
        ax.tick_params(axis='x', pad=5)
        for s in ax.spines.values():
            s.set_color('#444444')
            s.set_linewidth(0.9)
        ax.text(0.03, 0.84, heights[r], transform=ax.transAxes, fontsize=7.4,
                fontweight='bold', va='center', ha='left')
        if r == 0:
            ax.set_title(col_titles[c], fontsize=7.4, fontweight='bold', pad=10)
        if r < 4:
            ax.tick_params(labelbottom=False)
        else:
            ax.set_xlabel('Y coordinate [mm]', fontsize=7.6, color='#333333', labelpad=3)
            if c == 1:
                ax.legend(loc='upper right', ncol=2, fontsize=6, fancybox=False,
                          edgecolor='#333333', framealpha=1, borderaxespad=0.5,
                          handlelength=2.2, columnspacing=2.0)
            elif c == 3:
                # the last column runs past the image edge; keep its legend inside
                ax.legend(loc='upper right', ncol=2, fontsize=6, fancybox=False,
                          edgecolor='#333333', framealpha=1, borderaxespad=0,
                          bbox_to_anchor=(999 / W, 1 - 556 / H), bbox_transform=fig.transFigure,
                          handlelength=2.2, columnspacing=2.0)

fig.text(252 / W, 1 - 740 / H, r'$\mathrm{(a)\ Axial\ velocity}$', fontsize=18.5,
         ha='center', va='center')
fig.text(765 / W, 1 - 740 / H, r'$\mathrm{(b)\ Radial\ velocity}$', fontsize=18.5,
         ha='center', va='center')

fig.savefig('out.png', dpi=100)
plt.close()
